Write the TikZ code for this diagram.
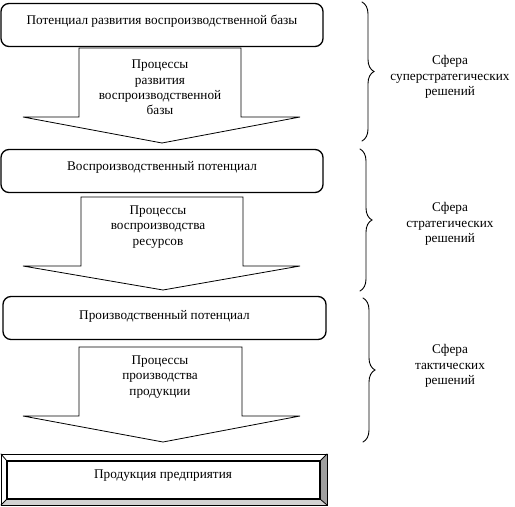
\documentclass[tikz,border=0pt]{standalone}
\usepackage{fontspec}
\setmainfont{Liberation Serif}
\usetikzlibrary{decorations.pathreplacing}

\begin{document}
\begin{tikzpicture}[x=1bp,y=-1bp,font=\fontsize{13.3}{15.5}\selectfont,line cap=round,
  potbox/.style={draw,line width=1.3bp,rounded corners=8bp,minimum height=43bp},
  blockarrow/.style={draw,line width=0.8bp,fill=white},
  proclabel/.style={align=center,inner sep=0pt},
  spherebrace/.style={decorate,decoration={brace,amplitude=12bp},line width=0.9bp},
  spherelabel/.style={align=center,inner sep=0pt}]
\useasboundingbox (0,0) rectangle (515,507);
% potentials
\node[potbox,minimum width=322bp] (potA) at (162,25) {};
\node (potAtext) at (162,21) {Потенциал развития воспроизводственной базы};
\node[potbox,minimum width=322bp] (potB) at (162,171) {};
\node (potBtext) at (162,167) {Воспроизводственный потенциал};
\node[potbox,minimum width=323bp] (potC) at (164.5,318) {};
\node (potCtext) at (164.5,316) {Производственный потенциал};
% block arrows
\draw[blockarrow] (79,48) -- (241,48) -- (241,117) -- (300,117) -- (162,143) -- (23,117) -- (79,117) -- cycle;
\draw[blockarrow] (81,197) -- (243,197) -- (243,266) -- (300,266) -- (163,290) -- (23,266) -- (81,266) -- cycle;
\draw[blockarrow] (79,347) -- (242,347) -- (242,416) -- (300,416) -- (163,442) -- (23,416) -- (79,416) -- cycle;
\node[proclabel] (procA) at (160,87.5) {Процессы\\развития\\воспроизводственной\\базы};
\node[proclabel] (procB) at (158,227) {Процессы\\воспроизводства\\ресурсов};
\node[proclabel] (procC) at (160,377) {Процессы\\производства\\продукции};
% product frame
\fill[white] (1,454) rectangle (327,505);
\fill[gray!75] (320,461) -- (327,454) -- (327,505) -- (320,499) -- cycle;
\fill[gray!35] (7,499) -- (320,499) -- (327,505) -- (1,505) -- cycle;
\draw[line width=0.9bp] (1,454) rectangle (327,505);
\draw[line width=0.8bp] (1,454) -- (7,461) (327,454) -- (320,461) (1,505) -- (7,499) (327,505) -- (320,499);
\draw[line width=1.3bp] (7,461) rectangle (320,499);
\node (product) at (163,476) {Продукция предприятия};
% spheres of decisions
\draw[spherebrace] (362,2) -- (362,141);
\draw[spherebrace] (360,149) -- (360,291);
\draw[spherebrace] (363,298) -- (363,442);
\node[spherelabel] (sphA) at (450,77) {Сфера\\суперстратегических\\решений};
\node[spherelabel] (sphB) at (450,224) {Сфера\\стратегических\\решений};
\node[spherelabel] (sphC) at (450,366) {Сфера\\тактических\\решений};
\end{tikzpicture}
\end{document}
